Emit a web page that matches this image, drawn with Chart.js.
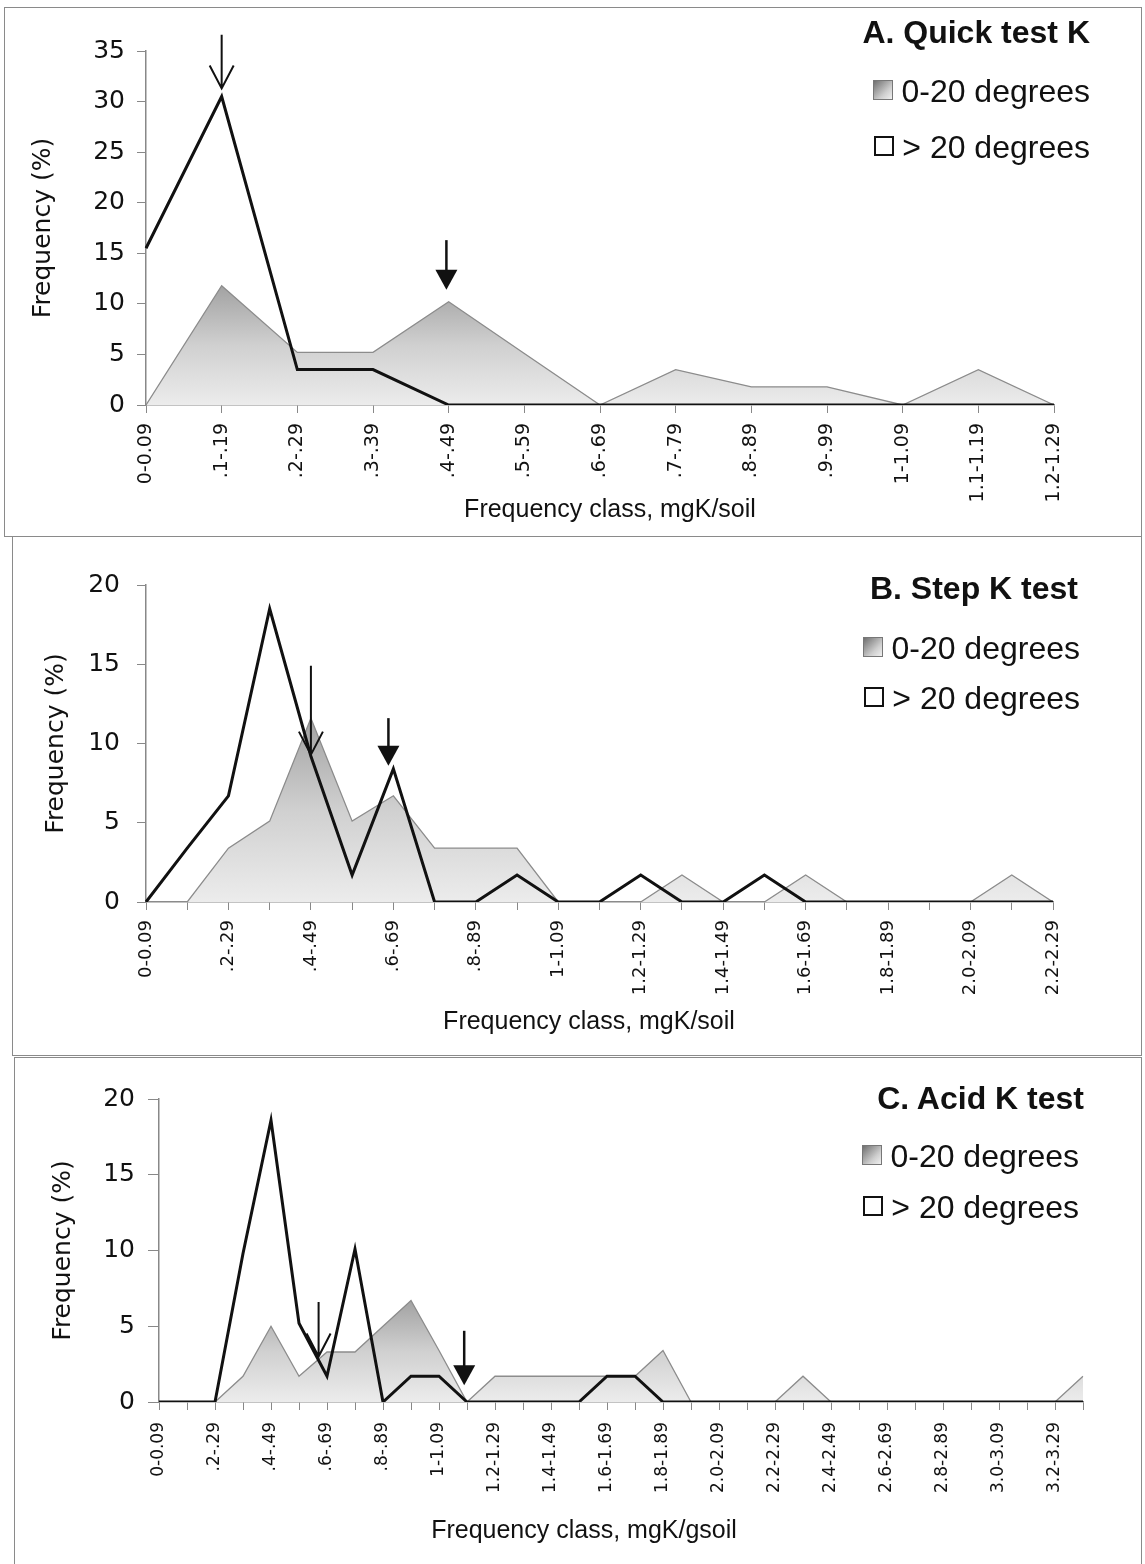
<!DOCTYPE html>
<html>
<head>
<meta charset="utf-8">
<script src="https://cdn.jsdelivr.net/npm/chart.js@4.4.1/dist/chart.umd.min.js"></script>
<style>
  html, body { margin: 0; padding: 0; background: #fff; }
  body { width: 1145px; height: 1564px; position: relative; overflow: hidden;
         font-family: "Liberation Sans", Arial, sans-serif; color: #111; }
  .box { position: absolute; border: 1.5px solid #8a8a8a; box-sizing: border-box; }
  canvas { position: absolute; left: 0; }
  .ttl { position: absolute; font-size: 32px; line-height: 32px; font-weight: bold; white-space: nowrap; }
  .row { position: absolute; font-size: 32px; line-height: 32px; white-space: nowrap; display: flex; align-items: center; }
  .sw { width: 20px; height: 20px; box-sizing: border-box; margin-right: 8px; margin-top: -3px; }
  .sw.grey { border: 1px solid #777; background: linear-gradient(135deg, #6f6f6f, #cfcfcf 65%, #f0f0f0); }
  .sw.open { border: 2px solid #111; background: #fff; }
  .xt { position: absolute; font-size: 25px; line-height: 25px; white-space: nowrap; transform: translateX(-50%); }
</style>
</head>
<body>

<div class="box" style="left:4px;top:7px;width:1138px;height:530px"></div>
<div class="box" style="left:12px;top:536px;width:1130px;height:520px"></div>
<div class="box" style="left:14px;top:1057px;width:1128px;height:520px"></div>

<canvas id="chartA" width="1145" height="530" style="top:7px"></canvas>
<canvas id="chartB" width="1145" height="518" style="top:537px"></canvas>
<canvas id="chartC" width="1145" height="507" style="top:1057px"></canvas>

<div class="ttl" style="right:55px;top:16px">A. Quick test K</div>
<div class="row" style="right:55px;top:75px"><span class="sw grey"></span>0-20 degrees</div>
<div class="row" style="right:55px;top:131px"><span class="sw open"></span>&gt; 20 degrees</div>
<div class="xt" style="left:610px;top:496px">Frequency class, mgK/soil</div>

<div class="ttl" style="right:67px;top:572px">B. Step K test</div>
<div class="row" style="right:65px;top:632px"><span class="sw grey"></span>0-20 degrees</div>
<div class="row" style="right:65px;top:682px"><span class="sw open"></span>&gt; 20 degrees</div>
<div class="xt" style="left:589px;top:1008px">Frequency class, mgK/soil</div>

<div class="ttl" style="right:61px;top:1082px">C. Acid K test</div>
<div class="row" style="right:66px;top:1140px"><span class="sw grey"></span>0-20 degrees</div>
<div class="row" style="right:66px;top:1191px"><span class="sw open"></span>&gt; 20 degrees</div>
<div class="xt" style="left:584px;top:1517px">Frequency class, mgK/gsoil</div>

<script>
// frequency classes
const classesA = ["0-0.09", ".1-.19", ".2-.29", ".3-.39", ".4-.49", ".5-.59", ".6-.69",
  ".7-.79", ".8-.89", ".9-.99", "1-1.09", "1.1-1.19", "1.2-1.29"];
const classesB = ["0-0.09", ".1-.19", ".2-.29", ".3-.39", ".4-.49", ".5-.59", ".6-.69",
  ".7-.79", ".8-.89", ".9-.99", "1-1.09", "1.1-1.19", "1.2-1.29", "1.3-1.39", "1.4-1.49",
  "1.5-1.59", "1.6-1.69", "1.7-1.79", "1.8-1.89", "1.9-1.99", "2.0-2.09", "2.1-2.19", "2.2-2.29"];
const classesC = ["0-0.09", ".1-.19", ".2-.29", ".3-.39", ".4-.49", ".5-.59", ".6-.69",
  ".7-.79", ".8-.89", ".9-.99", "1-1.09", "1.1-1.19", "1.2-1.29", "1.3-1.39", "1.4-1.49",
  "1.5-1.59", "1.6-1.69", "1.7-1.79", "1.8-1.89", "1.9-1.99", "2.0-2.09", "2.1-2.19",
  "2.2-2.29", "2.3-2.39", "2.4-2.49", "2.5-2.59", "2.6-2.69", "2.7-2.79", "2.8-2.89",
  "2.9-2.99", "3.0-3.09", "3.1-3.19", "3.2-3.29", "3.3-3.39"];

// frequency (%) per class, 0-20 degrees and > 20 degrees
const gentleA = [0, 11.8, 5.2, 5.2, 10.2, 5.1, 0, 3.5, 1.8, 1.8, 0, 3.5, 0];
const steepA = [15.5, 30.5, 3.5, 3.5, 0, 0, 0, 0, 0, 0, 0, 0, 0];

const gentleB = [0, 0, 3.4, 5.1, 11.6, 5.1, 6.7, 3.4, 3.4, 3.4, 0, 0, 0, 1.7, 0, 0, 1.7, 0, 0, 0, 0, 1.7, 0];
const steepB = [0, 3.4, 6.7, 18.5, 9.2, 1.7, 8.4, 0, 0, 1.7, 0, 0, 1.7, 0, 0, 1.7, 0, 0, 0, 0, 0, 0, 0];

const gentleC = [0, 0, 0, 1.7, 5.0, 1.7, 3.3, 3.3, 5.0, 6.7, 3.4, 0, 1.7, 1.7, 1.7, 1.7, 1.7, 1.7,
  3.4, 0, 0, 0, 0, 1.7, 0, 0, 0, 0, 0, 0, 0, 0, 0, 1.7];
const steepC = [0, 0, 0, 9.8, 18.6, 5.2, 1.7, 10.1, 0, 1.7, 1.7, 0, 0, 0, 0, 0, 1.7, 1.7,
  0, 0, 0, 0, 0, 0, 0, 0, 0, 0, 0, 0, 0, 0, 0, 0];

// marker arrows: class index, start and end value, head style
const arrowsA = [
  { at: 1, from: 36.6, to: 31.3, head: "open" },
  { at: 3.97, from: 16.3, to: 11.4, head: "solid" },
];
const arrowsB = [
  { at: 4, from: 14.9, to: 9.3, head: "open" },
  { at: 5.88, from: 11.6, to: 8.6, head: "solid" },
];
const arrowsC = [
  { at: 5.7, from: 6.6, to: 3.0, head: "open" },
  { at: 10.9, from: 4.7, to: 1.1, head: "solid" },
];

const arrowPlugin = {
  id: "arrows",
  afterDatasetsDraw(chart, args, opts) {
    const { ctx, scales: { x, y } } = chart;
    ctx.save();
    ctx.strokeStyle = "#111";
    ctx.fillStyle = "#111";
    (opts.items || []).forEach((a) => {
      const px = x.getPixelForValue(a.at);
      const top = y.getPixelForValue(a.from);
      const tip = y.getPixelForValue(a.to);
      ctx.lineWidth = 2;
      if (a.head === "open") {
        ctx.beginPath();
        ctx.moveTo(px, top);
        ctx.lineTo(px, tip);
        ctx.moveTo(px - 12, tip - 23);
        ctx.lineTo(px, tip);
        ctx.lineTo(px + 12, tip - 23);
        ctx.stroke();
      } else {
        ctx.lineWidth = 2.5;
        ctx.beginPath();
        ctx.moveTo(px, top);
        ctx.lineTo(px, tip - 18);
        ctx.stroke();
        ctx.beginPath();
        ctx.moveTo(px - 11, tip - 20);
        ctx.lineTo(px + 11, tip - 20);
        ctx.lineTo(px, tip);
        ctx.closePath();
        ctx.fill();
      }
    });
    ctx.restore();
  },
};

function shade(context) {
  const chart = context.chart;
  if (!chart.chartArea) return "#d0d0d0";
  const y = chart.scales.y;
  const peak = Math.max(...context.dataset.data);
  const g = chart.ctx.createLinearGradient(0, y.getPixelForValue(0), 0, y.getPixelForValue(peak));
  g.addColorStop(0, "#ececec");
  g.addColorStop(0.5, "#d0d0d0");
  g.addColorStop(1, "#a2a2a2");
  return g;
}

function drawPanel(id, cfg) {
  const el = document.getElementById(id);
  return new Chart(el.getContext("2d"), {
    type: "line",
    data: {
      labels: cfg.labels,
      datasets: [
        {
          label: "> 20 degrees",
          data: cfg.steep,
          order: 0,
          borderColor: "#111",
          borderWidth: 3,
          fill: false,
          pointRadius: 0,
          tension: 0,
        },
        {
          label: "0-20 degrees",
          data: cfg.gentle,
          order: 1,
          borderColor: "#8c8c8c",
          borderWidth: 1.3,
          fill: "origin",
          backgroundColor: shade,
          pointRadius: 0,
          tension: 0,
        },
      ],
    },
    options: {
      responsive: false,
      animation: false,
      events: [],
      layout: { padding: { top: cfg.padTop, right: cfg.padRight, left: 0, bottom: 0 } },
      plugins: {
        legend: { display: false },
        tooltip: { enabled: false },
        arrows: { items: cfg.arrows },
      },
      scales: {
        x: {
          offset: false,
          border: { color: "#888", width: 1.5 },
          grid: { drawOnChartArea: false, tickLength: 8, tickColor: "#888" },
          ticks: {
            autoSkip: false,
            minRotation: 90,
            maxRotation: 90,
            padding: cfg.xPad,
            color: "#111",
            font: { family: "DejaVu Sans", size: cfg.xFont },
            callback(value, index) {
              return index % cfg.every === 0 ? this.getLabelForValue(value) : "";
            },
          },
          afterFit(scale) {
            scale.height = cfg.xHeight;
          },
        },
        y: {
          min: 0,
          max: cfg.yMax,
          border: { color: "#888", width: 1.5 },
          grid: { drawOnChartArea: false, tickLength: cfg.yTick, tickColor: "#888" },
          ticks: {
            stepSize: 5,
            padding: cfg.yPad,
            color: "#111",
            font: { family: "DejaVu Sans", size: 25 },
          },
          title: {
            display: true,
            text: "Frequency (%)",
            color: "#111",
            font: { family: "DejaVu Sans", size: 25 },
            padding: { top: cfg.titlePad, bottom: 0 },
          },
          afterFit(scale) {
            scale.width = cfg.yWidth;
          },
        },
      },
    },
    plugins: [arrowPlugin],
  });
}

drawPanel("chartA", {
  labels: classesA, gentle: gentleA, steep: steepA, arrows: arrowsA,
  yMax: 35, every: 1, padTop: 44, padRight: 91, xHeight: 132, yWidth: 146,
  xPad: 10, xFont: 19, yTick: 9, yPad: 12, titlePad: 28,
});
drawPanel("chartB", {
  labels: classesB, gentle: gentleB, steep: steepB, arrows: arrowsB,
  yMax: 20, every: 2, padTop: 48, padRight: 92, xHeight: 153, yWidth: 146,
  xPad: 10, xFont: 18, yTick: 9, yPad: 17, titlePad: 41,
});
drawPanel("chartC", {
  labels: classesC, gentle: gentleC, steep: steepC, arrows: arrowsC,
  yMax: 20, every: 2, padTop: 42, padRight: 62, xHeight: 162, yWidth: 159,
  xPad: 12, xFont: 17, yTick: 11, yPad: 13, titlePad: 48,
});
</script>
</body>
</html>
